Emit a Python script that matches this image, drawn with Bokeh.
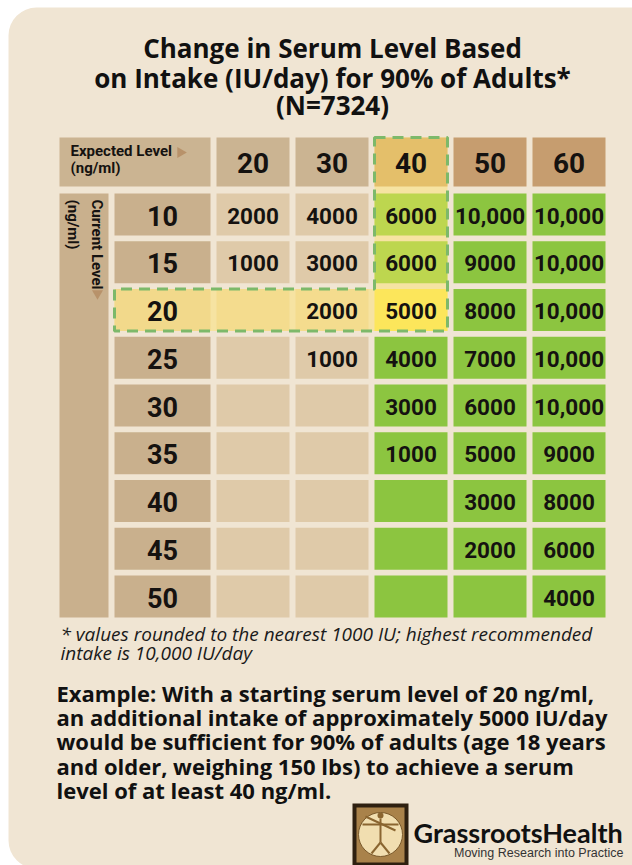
import math
from bokeh.plotting import figure
from bokeh.models import Range1d, BoxAnnotation
from bokeh.core.properties import value
from bokeh.embed import file_html
from bokeh.resources import INLINE

# ---------------- data ----------------
expected_levels = [20, 30, 40, 50, 60]
current_levels = [10, 15, 20, 25, 30, 35, 40, 45, 50]
intake_to_20 = [2000, 1000, None, None, None, None, None, None, None]
intake_to_30 = [4000, 3000, 2000, 1000, None, None, None, None, None]
intake_to_40 = [6000, 6000, 5000, 4000, 3000, 1000, None, None, None]
intake_to_50 = [10000, 9000, 8000, 7000, 6000, 5000, 3000, 2000, None]
intake_to_60 = [10000, 10000, 10000, 10000, 10000, 9000, 8000, 6000, 4000]
intake_columns = [intake_to_20, intake_to_30, intake_to_40, intake_to_50, intake_to_60]
example_current = 20
example_target = 40
sufficient_level = 40

title_lines = ["Change in Serum Level Based",
               "on Intake (IU/day) for 90% of Adults*",
               "(N=7324)"]
footnote_lines = ["* values rounded to the nearest 1000 IU; highest recommended",
                  "intake is 10,000 IU/day"]
example_lines = ["Example: With a starting serum level of 20 ng/ml,",
                 "an additional intake of approximately 5000 IU/day",
                 "would be sufficient for 90% of adults (age 18 years",
                 "and older, weighing 150 lbs) to achieve a serum",
                 "level of at least 40 ng/ml."]

# ---------------- layout ----------------
NUM_FONT = "Roboto"
SANS = "Open Sans"
COL_LEFT0, COL_W, COL_PITCH = 216, 73, 79
ROW_TOP0, ROW_H, ROW_PITCH = 193, 42, 47.75
HEAD_TOP, HEAD_BOT = 137, 186
LAB_L, LAB_R = 114, 210
BAND_L, BAND_R = 59, 108

def bl(size):  # baseline correction for alphabetic texts
    return -0.34 * size

p = figure(width=632, height=865, output_backend="svg", toolbar_location=None,
           x_range=Range1d(0, 632), y_range=Range1d(865, 0),
           min_border=0, outline_line_color=None,
           background_fill_color="white", border_fill_color="white")
p.axis.visible = False
p.grid.visible = False

panel = BoxAnnotation(left=8, right=720, top=7, bottom=868, fill_color="#f0e5d3",
                      fill_alpha=1, line_color=None, border_radius=28, level="underlay")
p.add_layout(panel)

hc = expected_levels.index(example_target)
hr = current_levels.index(example_current)

def col_l(i):
    return COL_LEFT0 + i * COL_PITCH

def row_t(j):
    return ROW_TOP0 + j * ROW_PITCH

# highlight region (union of target column and current row)
hx0, hx1 = col_l(hc), col_l(hc) + COL_W
hy0, hy1 = HEAD_TOP, row_t(hr) + ROW_H
ry0 = row_t(hr)
poly_x = [hx0, hx1, hx1, LAB_L, LAB_L, hx0]
poly_y = [hy0, hy0, hy1, hy1, ry0, ry0]
p.patch(poly_x, poly_y, fill_color="#f6e3a2", line_color=None)

# vertical band
p.quad(left=[BAND_L], right=[BAND_R], top=[ROW_TOP0], bottom=[row_t(len(current_levels) - 1) + ROW_H],
       fill_color="#c9b08d", line_color=None)

# header cells
hl, hr_, ht, hb, hcol, hx, hy, htxt = [], [], [], [], [], [], [], []
hl.append(BAND_L); hr_.append(LAB_R); ht.append(HEAD_TOP); hb.append(HEAD_BOT); hcol.append("#cbb492")
for i, e in enumerate(expected_levels):
    hl.append(col_l(i)); hr_.append(col_l(i) + COL_W); ht.append(HEAD_TOP); hb.append(HEAD_BOT)
    if i == hc:
        hcol.append("#e4bf6a")
    elif e >= sufficient_level:
        hcol.append("#c69d6f")
    else:
        hcol.append("#cbb492")
    hx.append(col_l(i) + COL_W / 2); hy.append((HEAD_TOP + HEAD_BOT) / 2 + 1); htxt.append(str(e))
p.quad(left=hl, right=hr_, top=ht, bottom=hb, fill_color=hcol, line_color=None)
p.text(x=hx, y=hy, text=htxt, text_font=value(NUM_FONT), text_font_size="28px",
       text_font_style="bold", text_align="center", text_baseline="middle", text_color="#151210")

# row label cells
rl, rr, rt, rb, rc, rx, ry, rtxt = [], [], [], [], [], [], [], []
for j, c in enumerate(current_levels):
    rl.append(LAB_L); rr.append(LAB_R); rt.append(row_t(j)); rb.append(row_t(j) + ROW_H)
    rc.append("#f2d98b" if j == hr else "#c9b08d")
    rx.append((LAB_L + LAB_R) / 2); ry.append(row_t(j) + ROW_H / 2 + 1); rtxt.append(str(c))
p.quad(left=rl, right=rr, top=rt, bottom=rb, fill_color=rc, line_color=None)
p.text(x=rx, y=ry, text=rtxt, text_font=value(NUM_FONT), text_font_size="27px",
       text_font_style="bold", text_align="center", text_baseline="middle", text_color="#151210")

# data cells
dl, dr, dt, db, dc, tx, ty, tt = [], [], [], [], [], [], [], []
for i, e in enumerate(expected_levels):
    for j, c in enumerate(current_levels):
        v = intake_columns[i][j]
        dl.append(col_l(i)); dr.append(col_l(i) + COL_W)
        dt.append(row_t(j)); db.append(row_t(j) + ROW_H)
        if i == hc and j == hr:
            col = "#fce65b"
        elif i == hc and j < hr:
            col = "#bdd64f"
        elif j == hr and i < hc:
            col = "#f4dc8e"
        elif e >= sufficient_level:
            col = "#8cc540"
        else:
            col = "#dfcaa9"
        dc.append(col)
        if v is not None:
            tx.append(col_l(i) + COL_W / 2); ty.append(row_t(j) + ROW_H / 2 + 1)
            tt.append(f"{v:,}" if v >= 10000 else str(v))
p.quad(left=dl, right=dr, top=dt, bottom=db, fill_color=dc, line_color=None)
p.text(x=tx, y=ty, text=tt, text_font=value(NUM_FONT), text_font_size="22.5px",
       text_font_style="bold", text_align="center", text_baseline="middle", text_color="#151210")

# dashed highlight outline
p.patch(poly_x + [poly_x[0]], poly_y + [poly_y[0]], fill_alpha=0, line_color="#7db96a",
        line_width=3, line_dash="11 7")

# header label texts
p.text(x=[70, 70], y=[159 + bl(26), 176 + bl(26)], text=["Expected Level", "(ng/ml)"],
       text_font=value(NUM_FONT), text_font_size="15px", text_font_style="bold", text_align="left",
       text_baseline="alphabetic", text_color="#151210")
p.scatter(x=[180], y=[152], marker="triangle", size=11, angle=-math.pi / 2,
          fill_color="#b8926a", line_color=None)
p.text(x=[96, 72], y=[199, 199], text=["Current Level", "(ng/ml)"], text_font=value(NUM_FONT),
       text_font_size="15px", text_font_style="bold", text_align="left",
       text_baseline="middle", text_color="#151210", angle=-math.pi / 2)
p.scatter(x=[97], y=[293], marker="inverted_triangle", size=11,
          fill_color="#b8926a", line_color=None)

# title
p.text(x=[332] * 3, y=[v + bl(26) for v in [56, 86, 113]], text=title_lines, text_font=value(SANS),
       text_font_size="26px", text_font_style="bold", text_align="center",
       text_baseline="alphabetic", text_color="#111111")

# footnote
p.text(x=[60, 60], y=[v + bl(26) for v in [642, 661]], text=footnote_lines, text_font=value(SANS),
       text_font_size="19px", text_font_style="italic", text_align="left",
       text_baseline="alphabetic", text_color="#1a1a1a")

# example
p.text(x=[56] * 5, y=[v + bl(26) for v in [701, 725, 749.5, 774, 798]], text=example_lines,
       text_font=value(SANS), text_font_size="22px", text_font_style="bold", text_align="left",
       text_baseline="alphabetic", text_color="#111111")

# logo
p.quad(left=[352], right=[408], top=[803], bottom=[866], fill_color="#2e2010", line_color=None)
p.quad(left=[356], right=[404], top=[807], bottom=[862], fill_color="#a9824a", line_color=None)
p.circle(x=[380], y=[834], radius=22, fill_color="#f1deb0", line_color="#7a5a2c", line_width=1)
p.multi_line(xs=[[362, 398], [380, 380], [380, 371], [380, 389], [365, 395]],
             ys=[[824, 824], [818, 842], [842, 853], [842, 853], [816, 830]],
             line_color="#8a6530", line_width=2)
p.circle(x=[380], y=[815], radius=3, fill_color="#8a6530", line_color=None)

p.text(x=[413], y=[842 + bl(28)], text=["GrassrootsHealth"], text_font=value("Lato"),
       text_font_size="27px", text_font_style="bold", text_align="left",
       text_baseline="alphabetic", text_color="#111111")
p.text(x=[623], y=[857 + bl(12.5)], text=["Moving Research into Practice"],
       text_font=value("Liberation Sans"), text_font_size="12.5px", text_align="right",
       text_baseline="alphabetic", text_color="#333333")

open("out.html", "w").write(file_html(p, INLINE))
